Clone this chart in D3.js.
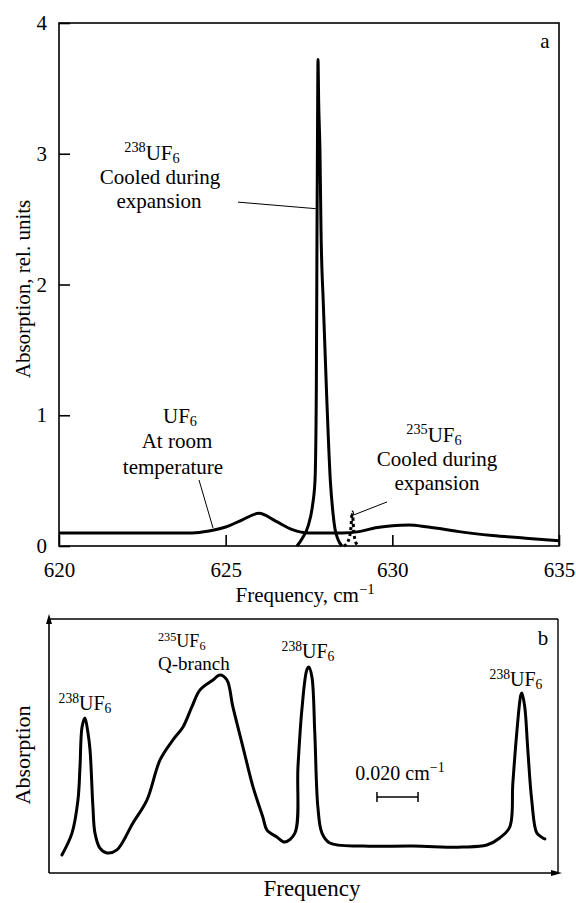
<!DOCTYPE html>
<html><head><meta charset="utf-8">
<script src="https://cdn.jsdelivr.net/npm/d3@7"></script>
<style>
body{margin:0;background:#fff}
svg{display:block}
</style>
</head><body>
<svg id="chart" width="576" height="903"></svg>
<script>
// ---------- Panel a data ----------
const xTicksA = [620, 625, 630, 635];
const yTicksA = [0, 1, 2, 3, 4];

const freqRoom = [620, 621, 622, 623, 624, 624.5, 625, 625.5, 626, 626.5, 627, 627.5, 628, 628.5, 629, 629.5, 630, 630.5, 631, 631.5, 632, 633, 634, 635];
const absRoom  = [0.10, 0.10, 0.10, 0.10, 0.10, 0.115, 0.145, 0.20, 0.25, 0.19, 0.125, 0.10, 0.10, 0.10, 0.11, 0.14, 0.155, 0.16, 0.148, 0.13, 0.11, 0.08, 0.06, 0.04];

const freqCold238 = [627.14, 627.30, 627.47, 627.60, 627.68, 627.72, 627.74, 627.76, 627.77, 627.79, 627.83, 627.86, 627.93, 628.03, 628.14, 628.22, 628.28, 628.37, 628.49];
const absCold238  = [0.0, 0.06, 0.15, 0.30, 0.50, 1.20, 2.40, 3.40, 3.72, 3.40, 3.00, 2.42, 1.85, 1.15, 0.50, 0.25, 0.13, 0.05, 0.0];

const freqCold235 = [628.55, 628.68, 628.75, 628.80, 628.84, 628.90, 629.00];
const absCold235  = [0.0, 0.04, 0.12, 0.26, 0.12, 0.03, 0.0];

// ---------- Panel b data (relative frequency, cm^-1; relative absorption) ----------
const freqB = [0.0063, 0.0112, 0.0141, 0.0151, 0.0161, 0.0175, 0.0190, 0.0200, 0.0214, 0.0224, 0.0248, 0.0282, 0.0331, 0.0409, 0.0477, 0.0541, 0.0604, 0.0653, 0.0696, 0.0735, 0.0799, 0.0833, 0.0867, 0.0896, 0.0945, 0.0994, 0.1042, 0.1062, 0.1110, 0.1149, 0.1198, 0.1213, 0.1232, 0.1256, 0.1266, 0.1281, 0.1295, 0.1310, 0.1330, 0.1368, 0.1529, 0.1773, 0.2016, 0.2133, 0.2196, 0.2245, 0.2260, 0.2279, 0.2299, 0.2304, 0.2318, 0.2333, 0.2352, 0.2377, 0.2406, 0.2416];
const absB  = [0.071, 0.157, 0.287, 0.417, 0.575, 0.610, 0.551, 0.484, 0.260, 0.157, 0.098, 0.079, 0.091, 0.197, 0.287, 0.445, 0.524, 0.575, 0.654, 0.720, 0.760, 0.780, 0.760, 0.654, 0.496, 0.339, 0.220, 0.169, 0.142, 0.122, 0.157, 0.417, 0.642, 0.799, 0.811, 0.772, 0.551, 0.260, 0.157, 0.118, 0.106, 0.106, 0.102, 0.110, 0.138, 0.181, 0.354, 0.551, 0.701, 0.709, 0.654, 0.484, 0.287, 0.157, 0.138, 0.134];
const scaleBarStart = 0.1598;
const scaleBarWidth = 0.020;

const FONT = "'Liberation Serif', 'DejaVu Serif', 'Noto Serif', 'FreeSerif', 'Times New Roman', Times, serif";
const svg = d3.select("#chart").attr("font-family", FONT).style("font-family", FONT);
const FS = 21;

function zip(a, b) { return a.map((v, i) => [v, b[i]]); }

function isoLabel(g, x, y, mass, anchor, fs) {
  const t = g.append("text").attr("x", x).attr("y", y).attr("text-anchor", anchor).attr("font-size", fs)
    .style("font-family", FONT).attr("fill", "#000");
  if (mass) {
    t.append("tspan").attr("font-size", fs * 0.68).attr("dy", -fs * 0.36).text(mass);
    t.append("tspan").attr("dy", fs * 0.36).text("UF");
  } else {
    t.append("tspan").text("UF");
  }
  t.append("tspan").attr("font-size", fs * 0.68).attr("dy", fs * 0.14).text("6");
  return t;
}
function plainText(g, x, y, s, anchor, fs) {
  return g.append("text").attr("x", x).attr("y", y).attr("text-anchor", anchor).attr("font-size", fs)
    .style("font-family", FONT).attr("fill", "#000").text(s);
}

// ================= Panel a =================
const x = d3.scaleLinear().domain([620, 635]).range([59, 559]);
const y = d3.scaleLinear().domain([0, 4]).range([546, 23]);

const ga = svg.append("g");
ga.append("rect").attr("x", x(620)).attr("y", y(4)).attr("width", x(635) - x(620)).attr("height", y(0) - y(4))
  .attr("fill", "none").attr("stroke", "#000").attr("stroke-width", 1.6);

const axL = ga.append("g").attr("transform", `translate(${x(620)},0)`)
  .call(d3.axisLeft(y).tickValues(yTicksA).tickFormat(d3.format("d")).tickSizeInner(-11).tickSizeOuter(0).tickPadding(12));
axL.select(".domain").remove();
axL.attr("font-size", FS).attr("font-family", FONT);
axL.selectAll("text").style("font-family", FONT);
axL.selectAll("line").attr("stroke-width", 1.6);

const axB = ga.append("g").attr("transform", `translate(0,${y(0)})`)
  .call(d3.axisBottom(x).tickValues(xTicksA).tickFormat(d3.format("d")).tickSizeInner(-11).tickSizeOuter(0).tickPadding(16));
axB.select(".domain").remove();
axB.attr("font-size", FS).attr("font-family", FONT);
axB.selectAll("text").style("font-family", FONT);
axB.selectAll("line").attr("stroke-width", 1.6);

const lineA = d3.line().x(d => x(d[0])).y(d => y(d[1])).curve(d3.curveMonotoneX);

ga.append("path").datum(zip(freqRoom, absRoom)).attr("d", lineA)
  .attr("fill", "none").attr("stroke", "#000").attr("stroke-width", 3).attr("stroke-linejoin", "round");
ga.append("path").datum(zip(freqCold238, absCold238)).attr("d", lineA)
  .attr("fill", "none").attr("stroke", "#000").attr("stroke-width", 3).attr("stroke-linejoin", "round");
ga.append("path").datum(zip(freqCold235, absCold235)).attr("d", lineA)
  .attr("fill", "none").attr("stroke", "#000").attr("stroke-width", 3).attr("stroke-dasharray", "3,3");

// leader lines (data coords)
const leaders = [
  [[625.37, 2.63], [627.70, 2.58]],
  [[624.20, 0.505], [624.62, 0.138]],
  [[629.84, 0.337], [628.84, 0.237]]
];
leaders.forEach(l => {
  ga.append("line").attr("x1", x(l[0][0])).attr("y1", y(l[0][1])).attr("x2", x(l[1][0])).attr("y2", y(l[1][1]))
    .attr("stroke", "#000").attr("stroke-width", 1);
});

// labels panel a
isoLabel(ga, 152, 160, "238", "middle", FS);
plainText(ga, 160, 184, "Cooled during", "middle", FS);
plainText(ga, 159, 208, "expansion", "middle", FS);

isoLabel(ga, 180, 423, null, "middle", FS);
plainText(ga, 177, 448, "At room", "middle", FS);
plainText(ga, 173, 474, "temperature", "middle", FS);

isoLabel(ga, 434, 442, "235", "middle", FS);
plainText(ga, 437, 466, "Cooled during", "middle", FS);
plainText(ga, 437, 490, "expansion", "middle", FS);

plainText(ga, 545, 48, "a", "middle", FS);

// axis titles a
const xt = ga.append("text").attr("x", 305).attr("y", 602).attr("text-anchor", "middle").attr("font-size", FS)
  .style("font-family", FONT);
xt.append("tspan").text("Frequency, cm");
xt.append("tspan").attr("font-size", FS * 0.7).attr("dy", -FS * 0.4).text("\u22121");
ga.append("text").attr("transform", "translate(30,289) rotate(-90)").attr("text-anchor", "middle")
  .attr("font-size", FS).style("font-family", FONT).text("Absorption, rel. units");

// ================= Panel b =================
const xb = d3.scaleLinear().domain([0, 0.248]).range([49, 558]);
const yb = d3.scaleLinear().domain([0, 1]).range([873, 619]);
const gb = svg.append("g");

// frame: top and right thin, left and bottom as arrows
gb.append("line").attr("x1", xb(0)).attr("y1", yb(1)).attr("x2", xb(0.248)).attr("y2", yb(1)).attr("stroke", "#000").attr("stroke-width", 1.4);
gb.append("line").attr("x1", xb(0.248)).attr("y1", yb(1)).attr("x2", xb(0.248)).attr("y2", yb(0)).attr("stroke", "#000").attr("stroke-width", 1.4);
gb.append("line").attr("x1", xb(0)).attr("y1", yb(0)).attr("x2", xb(0)).attr("y2", yb(1) + 2).attr("stroke", "#000").attr("stroke-width", 1.6);
gb.append("line").attr("x1", xb(0)).attr("y1", yb(0)).attr("x2", xb(0.248) - 2).attr("y2", yb(0)).attr("stroke", "#000").attr("stroke-width", 1.6);
const ax0 = xb(0), ay1 = yb(1);
gb.append("path").attr("d", `M${ax0},${ay1 - 5} L${ax0 - 3},${ay1 + 5} L${ax0 + 3},${ay1 + 5} Z`).attr("fill", "#000");
const bx1 = xb(0.248), by0 = yb(0);
gb.append("path").attr("d", `M${bx1 + 4},${by0} L${bx1 - 7},${by0 - 3} L${bx1 - 7},${by0 + 3} Z`).attr("fill", "#000");

const lineB = d3.line().x(d => xb(d[0])).y(d => yb(d[1])).curve(d3.curveCatmullRom.alpha(0.5));
gb.append("path").datum(zip(freqB, absB)).attr("d", lineB)
  .attr("fill", "none").attr("stroke", "#000").attr("stroke-width", 3).attr("stroke-linejoin", "round").attr("stroke-linecap", "round");

// scale bar
const sb0 = xb(scaleBarStart), sb1 = xb(scaleBarStart + scaleBarWidth), sby = 797;
gb.append("line").attr("x1", sb0).attr("x2", sb1).attr("y1", sby).attr("y2", sby).attr("stroke", "#000").attr("stroke-width", 1.5);
gb.append("line").attr("x1", sb0).attr("x2", sb0).attr("y1", sby - 5).attr("y2", sby + 5).attr("stroke", "#000").attr("stroke-width", 1.5);
gb.append("line").attr("x1", sb1).attr("x2", sb1).attr("y1", sby - 5).attr("y2", sby + 5).attr("stroke", "#000").attr("stroke-width", 1.5);
const sbt = gb.append("text").attr("x", 400).attr("y", 780).attr("text-anchor", "middle").attr("font-size", 20)
  .style("font-family", FONT);
sbt.append("tspan").text("0.020 cm");
sbt.append("tspan").attr("font-size", 14).attr("dy", -8).text("\u22121");

// labels panel b
isoLabel(gb, 85, 710, "238", "middle", 20);
isoLabel(gb, 158, 647, "235", "start", 18);
plainText(gb, 158, 670, "Q-branch", "start", 19);
isoLabel(gb, 308, 658, "238", "middle", 20);
isoLabel(gb, 516, 686, "238", "middle", 20);
plainText(gb, 543, 645, "b", "middle", FS);

plainText(gb, 312, 896, "Frequency", "middle", 23);
gb.append("text").attr("transform", "translate(30,755) rotate(-90)").attr("text-anchor", "middle")
  .attr("font-size", 22).style("font-family", FONT).text("Absorption");
</script>
</body></html>
